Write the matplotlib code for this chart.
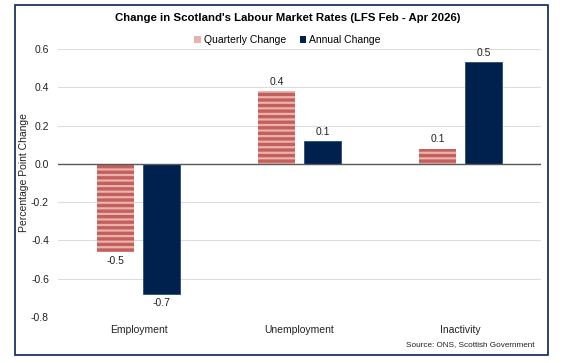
import matplotlib.pyplot as plt
from matplotlib.patches import Rectangle, Patch
import numpy as np

plt.rcParams['font.family'] = ['Liberation Sans', 'DejaVu Sans']
plt.rcParams['hatch.linewidth'] = 1.6

categories = ["Employment", "Unemployment", "Inactivity"]
quarterly = [-0.46, 0.38, 0.08]
annual = [-0.68, 0.12, 0.53]
yticks = [-0.8, -0.6, -0.4, -0.2, 0.0, 0.2, 0.4, 0.6]

navy = "#00204e"
red = "#c4605c"
pink = "#e9b2ae"

fig = plt.figure(figsize=(5.75, 3.63), dpi=100)
ax = fig.add_axes([58 / 575, 1 - 317 / 363, 483 / 575, 268 / 363])

x = np.arange(len(categories))
w = 0.23
b1 = ax.bar(x - 0.143, quarterly, w, color=red, edgecolor=pink, linewidth=0,
            hatch="---", zorder=3)
b2 = ax.bar(x + 0.143, annual, w, color=navy, edgecolor="#2c4a7a", linewidth=0.6,
            zorder=3)
ax.bar_label(b1, fmt="%.1f", padding=3, fontsize=7.5, color="#222222")
ax.bar_label(b2, fmt="%.1f", padding=3, fontsize=7.5, color="#222222")

ax.set_xlim(-0.5, 2.5)
ax.set_ylim(-0.8, 0.6)
ax.set_yticks(yticks)
ax.set_yticklabels(["%.1f" % v for v in yticks])
ax.set_xticks(x)
ax.set_xticklabels(categories)
ax.tick_params(axis="both", length=0, labelsize=7.5, colors="#222222")
ax.tick_params(axis="y", pad=6.5)
ax.tick_params(axis="x", pad=6)
ax.grid(axis="y", color="#dcdcdc", linewidth=0.8, zorder=0)
for s in ax.spines.values():
    s.set_visible(False)
ax.axhline(0, color="#595959", linewidth=1, zorder=4)
ax.set_ylabel("Percentage Point Change", fontsize=7.5, color="#222222")
ax.yaxis.set_label_coords(-0.061, 0.54)

fig.text(0.5, 1 - 18 / 363, "Change in Scotland's Labour Market Rates (LFS Feb - Apr 2026)",
         ha="center", va="center", fontsize=8.2, fontweight="bold")
handles = [Patch(facecolor=pink, edgecolor="none"), Patch(facecolor=navy, edgecolor="none")]
fig.legend(handles, ["Quarterly Change", "Annual Change"], loc="center",
           bbox_to_anchor=(0.5, 1 - 40 / 363), ncol=2, frameon=False, fontsize=7.5,
           handlelength=0.6, handleheight=0.6, handletextpad=0.3, columnspacing=1.3)
fig.text(534 / 575, 1 - 345 / 363, "Source: ONS, Scottish Government",
         ha="right", va="center", fontsize=5.9, color="#222222")

fig.patches.append(Rectangle((15 / 575, 1 - 355 / 363), 533 / 575, 350 / 363,
                             transform=fig.transFigure, fill=False,
                             edgecolor="#0b2357", linewidth=1.2))

fig.savefig("out.png", dpi=100)
